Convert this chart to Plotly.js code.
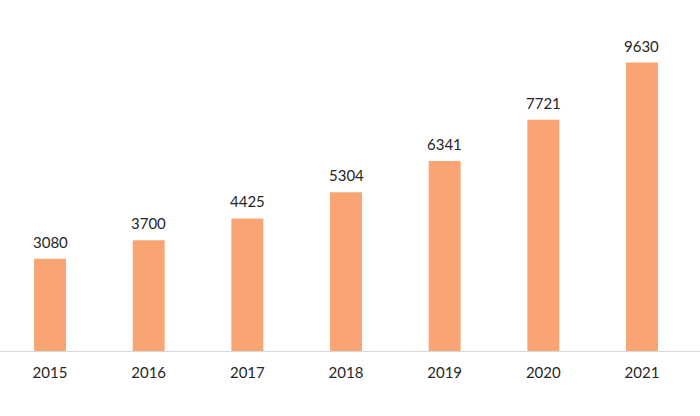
<!DOCTYPE html>
<html>
<head>
<meta charset="utf-8">
<script src="https://cdn.plot.ly/plotly-3.0.1.min.js"></script>
<style>html,body{margin:0;padding:0;background:#fff;}#chart{width:700px;height:416px;}</style>
</head>
<body>
<div id="chart"></div>
<script>
const years = ['2015','2016','2017','2018','2019','2020','2021'];
const values = [3080, 3700, 4425, 5304, 6341, 7721, 9630];

const fontFam = 'Lato, "Open Sans", "Liberation Sans", sans-serif';
const data = [{
  type: 'bar',
  x: years,
  y: values,
  width: 0.324,
  marker: {color: '#F9A573'},
  hoverinfo: 'x+y'
}];

const annotations = years.map((yr, i) => ({
  x: i, y: values[i], xref: 'x', yref: 'y',
  text: String(values[i]), showarrow: false,
  xanchor: 'center', yanchor: 'bottom', yshift: 6,
  font: {family: fontFam, size: 15, color: '#262626'}
}));

const layout = {
  width: 700, height: 416,
  margin: {l: 0, r: 0, t: 20, b: 65, pad: 0},
  paper_bgcolor: '#ffffff', plot_bgcolor: '#ffffff',
  showlegend: false,
  xaxis: {
    type: 'category',
    range: [-0.507, 6.588],
    showline: true, linecolor: '#d9d9d9', linewidth: 1,
    showgrid: false, zeroline: false, ticks: '',
    tickfont: {family: fontFam, size: 15, color: '#262626'},
    ticklabelstandoff: 8
  },
  yaxis: {
    range: [0, 11052],
    showgrid: false, zeroline: false, showline: false,
    showticklabels: false, ticks: ''
  },
  annotations: annotations
};

Plotly.newPlot('chart', data, layout, {displayModeBar: false, staticPlot: true});
</script>
</body>
</html>
